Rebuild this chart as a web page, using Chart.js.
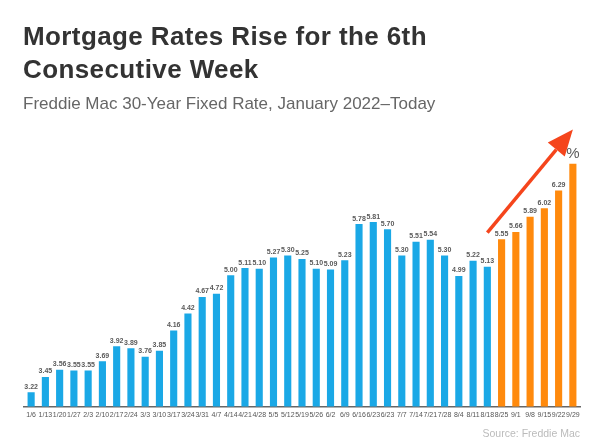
<!DOCTYPE html>
<html>
<head>
<meta charset="utf-8">
<script src="https://cdn.jsdelivr.net/npm/chart.js@4"></script>
<style>
  body { margin: 0; background: #fff; font-family: "Liberation Sans", Arial, sans-serif; }
  #wrap { position: relative; width: 600px; height: 448px; overflow: hidden; }
  #title { position: absolute; left: 23px; top: 20px; font-size: 26px; letter-spacing: 0.4px; font-weight: bold; color: #333; line-height: 33px; }
  #subtitle { position: absolute; left: 23px; top: 94px; font-size: 17px; color: #666; }
  #source { position: absolute; right: 20px; top: 427px; font-size: 10.5px; color: #bbb; }
  canvas { position: absolute; left: 0; top: 0; }
</style>
</head>
<body>
<div id="wrap">
  <canvas id="rateChart" width="600" height="448"></canvas>
  <div id="title">Mortgage Rates Rise for the 6th<br>Consecutive Week</div>
  <div id="subtitle">Freddie Mac 30-Year Fixed Rate, January 2022–Today</div>
  <div id="source">Source: Freddie Mac</div>
</div>
<script>
// weekly dates as printed under the bars
const weeks = ["1/6", "1/13", "1/20", "1/27", "2/3", "2/10", "2/17", "2/24", "3/3", "3/10",
    "3/17", "3/24", "3/31", "4/7", "4/14", "4/21", "4/28", "5/5", "5/12", "5/19",
    "5/26", "6/2", "6/9", "6/16", "6/23", "6/23", "7/7", "7/14", "7/21", "7/28",
    "8/4", "8/11", "8/18", "8/25", "9/1", "9/8", "9/15", "9/22", "9/29"];

// 30-year fixed rate (%)
const rates = [3.22, 3.45, 3.56, 3.55, 3.55, 3.69, 3.92, 3.89, 3.76, 3.85,
    4.16, 4.42, 4.67, 4.72, 5.00, 5.11, 5.10, 5.27, 5.30, 5.25,
    5.10, 5.09, 5.23, 5.78, 5.81, 5.70, 5.30, 5.51, 5.54, 5.30,
    4.99, 5.22, 5.13, 5.55, 5.66, 5.89, 6.02, 6.29, 6.70];

// the last six weeks are the consecutive rises
const risingWeeks = 6;

const blue = "#1aa8e6";
const orange = "#ff8a0d";

const barColors = rates.map((r, i) => i >= rates.length - risingWeeks ? orange : blue);

// value above each bar, "%" above the last one
const valueLabels = {
    id: "valueLabels",
    afterDatasetsDraw(chart) {
        const ctx = chart.ctx;
        const meta = chart.getDatasetMeta(0);
        ctx.save();
        ctx.textAlign = "center";
        ctx.textBaseline = "bottom";
        ctx.fillStyle = "#5a5a5a";
        meta.data.forEach((bar, i) => {
            if (i === rates.length - 1) {
                ctx.font = "15px 'Liberation Sans', Arial, sans-serif";
                ctx.fillText("%", bar.x, bar.y - 2);
            } else {
                ctx.font = "bold 7px 'Liberation Sans', Arial, sans-serif";
                ctx.fillText(rates[i].toFixed(2), bar.x, bar.y - 2);
            }
        });
        ctx.restore();
    }
};

// red arrow over the rising weeks
const riseArrow = {
    id: "riseArrow",
    afterDraw(chart) {
        const ctx = chart.ctx;
        const x = chart.scales.x;
        const y = chart.scales.y;
        const x0 = x.getPixelForValue(rates.length - risingWeeks - 1);
        const y0 = y.getPixelForValue(5.65);
        const x1 = x.getPixelForValue(rates.length - 1);
        const y1 = y.getPixelForValue(7.22);
        const ang = Math.atan2(y1 - y0, x1 - x0);
        const headLen = 26;
        const headW = 11;
        const bx = x1 - headLen * Math.cos(ang);
        const by = y1 - headLen * Math.sin(ang);
        ctx.save();
        ctx.strokeStyle = "#f5451c";
        ctx.fillStyle = "#f5451c";
        ctx.lineWidth = 3.5;
        ctx.beginPath();
        ctx.moveTo(x0, y0);
        ctx.lineTo(bx, by);
        ctx.stroke();
        ctx.beginPath();
        ctx.moveTo(x1, y1);
        ctx.lineTo(bx + headW * Math.sin(ang), by - headW * Math.cos(ang));
        ctx.lineTo(bx - headW * Math.sin(ang), by + headW * Math.cos(ang));
        ctx.closePath();
        ctx.fill();
        ctx.restore();
    }
};

new Chart(document.getElementById("rateChart"), {
    type: "bar",
    data: {
        labels: weeks,
        datasets: [{
            data: rates,
            backgroundColor: barColors,
            barPercentage: 0.5,
            categoryPercentage: 1.0
        }]
    },
    options: {
        responsive: false,
        animation: false,
        layout: { padding: { left: 24, right: 20, top: 144, bottom: 25 } },
        plugins: {
            legend: { display: false },
            tooltip: { enabled: false }
        },
        scales: {
            x: {
                grid: { display: false, drawTicks: false },
                border: { display: true, color: "#666", width: 1.5 },
                ticks: {
                    autoSkip: false,
                    maxRotation: 0,
                    padding: 4,
                    color: "#555",
                    font: { size: 7, family: "'Liberation Sans', Arial, sans-serif" }
                }
            },
            y: {
                display: false,
                min: 3,
                max: 7
            }
        }
    },
    plugins: [valueLabels, riseArrow]
});
</script>
</body>
</html>
